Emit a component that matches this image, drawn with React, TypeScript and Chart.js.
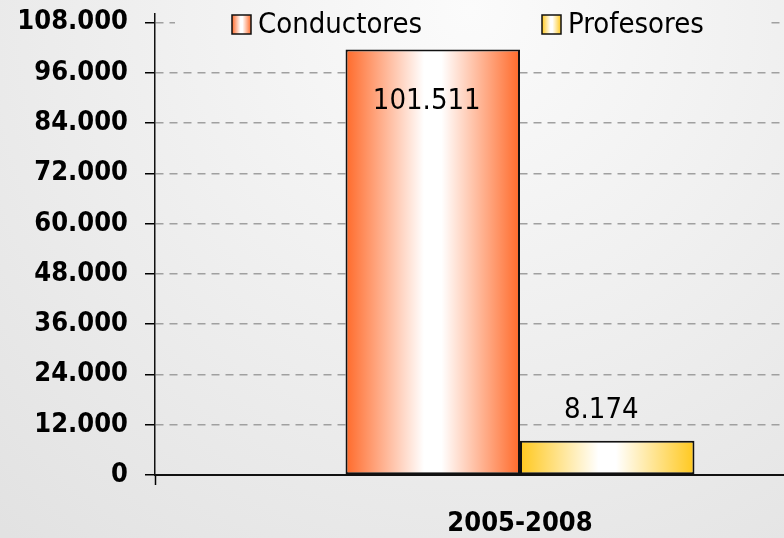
import React, { useEffect, useRef } from 'react';
import { Chart, registerables } from 'chart.js';

Chart.register(...registerables);

const categories = ['2005-2008'];
const seriesNames = ['Conductores', 'Profesores'];
const conductores = [101511];
const profesores = [8174];
const yTickValues = [0, 12000, 24000, 36000, 48000, 60000, 72000, 84000, 96000, 108000];
const seriesColors = ['#ff6a2a', '#ffc81e'];

const FONT = "'DejaVu Sans Condensed', 'DejaVu Sans', sans-serif";
const AXIS_FS = 27;
const AXIS_FW = 'bold';
const TEXT_FS = 29;
const VIS_W = 784;
const VIS_H = 538;
const CANVAS_W = 900;

function fmt(v: number): string {
  return String(Math.round(v)).replace(/\B(?=(\d{3})+(?!\d))/g, '.');
}

function bgGradient(ctx: CanvasRenderingContext2D) {
  const g = ctx.createRadialGradient(470, 10, 0, 470, 10, 700);
  g.addColorStop(0, '#fbfbfb');
  g.addColorStop(1, '#e2e2e2');
  return g;
}

function barGradient(ctx: CanvasRenderingContext2D, left: number, right: number, color: string) {
  const g = ctx.createLinearGradient(left, 0, right, 0);
  g.addColorStop(0, color);
  g.addColorStop(0.45, '#ffffff');
  g.addColorStop(0.55, '#ffffff');
  g.addColorStop(1, color);
  return g;
}

const customPlugin = {
  id: 'customLook',
  beforeDraw(chart: any) {
    const c = chart.ctx as CanvasRenderingContext2D;
    c.save();
    c.fillStyle = bgGradient(c);
    c.fillRect(0, 0, chart.width, chart.height);
    c.restore();
  },
  beforeDatasetsDraw(chart: any) {
    chart.data.datasets.forEach((_ds: any, i: number) => {
      const meta = chart.getDatasetMeta(i);
      meta.data.forEach((el: any) => {
        const { x, width } = el.getProps(['x', 'width'], true);
        el.options.backgroundColor = barGradient(chart.ctx, x - width / 2, x + width / 2, seriesColors[i]);
      });
    });
  },
  afterDatasetsDraw(chart: any) {
    const c = chart.ctx as CanvasRenderingContext2D;
    c.save();
    c.font = `${TEXT_FS}px ${FONT}`;
    c.fillStyle = '#000';
    c.textAlign = 'center';
    c.textBaseline = 'middle';
    chart.data.datasets.forEach((ds: any, i: number) => {
      const meta = chart.getDatasetMeta(i);
      meta.data.forEach((el: any, j: number) => {
        const { x, y } = el.getProps(['x', 'y'], true);
        let ly = y - 30;
        if (ly < 70) ly = y + 52;
        c.fillText(fmt(ds.data[j]), x - 6, ly);
      });
    });

    // legend (inside plot area, covering the top gridline)
    c.fillStyle = bgGradient(c);
    c.fillRect(175, 4, 593, 38);
    const itemX = [232, 542];
    c.textAlign = 'left';
    chart.data.datasets.forEach((ds: any, i: number) => {
      const x0 = itemX[i];
      const sq = 19;
      const y0 = 15;
      c.fillStyle = barGradient(c, x0, x0 + sq, seriesColors[i]);
      c.fillRect(x0, y0, sq, sq);
      c.lineWidth = 1.5;
      c.strokeStyle = '#111';
      c.strokeRect(x0, y0, sq, sq);
      c.fillStyle = '#000';
      c.fillText(ds.label, x0 + 26, y0 + sq / 2 + 1);
    });
    c.restore();
  },
};

export default function App() {
  const ref = useRef<HTMLCanvasElement | null>(null);

  useEffect(() => {
    if (!ref.current) return;
    const tickFont = { family: FONT, size: AXIS_FS, weight: AXIS_FW };
    const chart = new Chart(ref.current, {
      type: 'bar',
      data: {
        labels: categories,
        datasets: [
          {
            label: seriesNames[0],
            data: conductores,
            backgroundColor: (ctx: any) => seriesColors[ctx.datasetIndex],
            borderColor: '#111',
            borderWidth: 2,
            borderSkipped: false,
            categoryPercentage: 0.478,
            barPercentage: 1,
          },
          {
            label: seriesNames[1],
            data: profesores,
            backgroundColor: (ctx: any) => seriesColors[ctx.datasetIndex],
            borderColor: '#111',
            borderWidth: 2,
            borderSkipped: false,
            categoryPercentage: 0.478,
            barPercentage: 1,
          },
        ],
      },
      options: {
        responsive: false,
        animation: false,
        devicePixelRatio: 1,
        layout: { padding: { top: 14, right: 15, bottom: 0, left: 0 } },
        plugins: {
          legend: { display: false },
          tooltip: { enabled: false },
        },
        scales: {
          x: {
            type: 'category',
            offset: true,
            grid: {
              display: true,
              drawOnChartArea: false,
              drawTicks: true,
              tickLength: 10,
              tickColor: '#000',
              tickWidth: 1.5,
              offset: true,
            },
            border: { display: true, color: '#111', width: 2 },
            ticks: { color: '#000', font: tickFont, padding: 23, maxRotation: 0 },
            afterFit(s: any) {
              s.height = 63;
              s.paddingLeft = 0;
              s.paddingRight = 0;
            },
          },
          y: {
            type: 'linear',
            min: 0,
            max: 110000,
            afterBuildTicks(s: any) {
              s.ticks = yTickValues.map((v) => ({ value: v }));
            },
            grid: {
              color: (c: any) => (c.tick && c.tick.value === 0 ? 'rgba(0,0,0,0)' : '#a0a0a0'),
              lineWidth: 1.5,
              drawTicks: true,
              tickLength: 10,
              tickColor: '#000',
              tickWidth: 1.5,
            },
            border: { display: true, color: '#111', width: 1.5, dash: [8, 6] },
            ticks: {
              color: '#000',
              font: tickFont,
              padding: 17,
              callback: (v: any) => fmt(Number(v)),
            },
            afterFit(s: any) {
              s.width = 155;
              s.paddingTop = 0;
              s.paddingBottom = 0;
            },
          },
        },
      },
      plugins: [customPlugin],
    } as any);
    return () => chart.destroy();
  }, []);

  return (
    <div
      style={{
        position: 'fixed',
        left: 0,
        top: 0,
        width: VIS_W,
        height: VIS_H,
        overflow: 'hidden',
        background: '#e6e6e6',
      }}
    >
      <canvas ref={ref} width={CANVAS_W} height={VIS_H} style={{ display: 'block' }} />
    </div>
  );
}
